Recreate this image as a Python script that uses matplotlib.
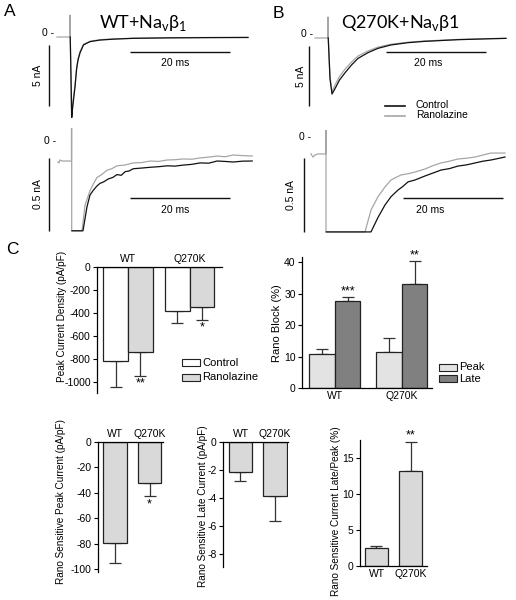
import matplotlib
matplotlib.use('Agg')
import matplotlib.pyplot as plt
from matplotlib.patches import Rectangle

plt.rcParams['font.family'] = ['Liberation Sans', 'DejaVu Sans']
plt.rcParams['axes.unicode_minus'] = False

W, H = 516, 600

# ---- current traces (time in ms from the step, current in nA) ----
# A, WT + Navb1, full scale
wt_t_rano = [-2.6, -0.05, 0.0, 0.05, 0.3, 0.5, 0.8, 1.0, 1.33, 1.6, 2.0, 2.7, 4.0, 6.0, 9.0, 12.6, 20, 28, 35.6]
wt_i_rano = [0, 0, 1.8, 0, -6.4, -5.6, -4.6, -3.9, -2.5, -1.8, -1.2, -0.6, -0.35, -0.22, -0.15, -0.1, -0.06, -0.04, -0.03]
wt_t_ctrl = [0.05, 0.35, 0.5, 0.8, 1.0, 1.33, 1.6, 2.0, 2.7, 4.0, 6.0, 9.0, 12.6, 20, 28, 35.6]
wt_i_ctrl = [0, -6.6, -5.9, -4.8, -4.1, -2.6, -1.9, -1.3, -0.65, -0.38, -0.25, -0.17, -0.11, -0.07, -0.05, -0.04]

# B, Q270K + Navb1, full scale
q_t_rano = [-2.6, -0.05, 0.0, 0.05, 0.4, 0.8, 1.3, 2.3, 3.4, 4.7, 6.0, 8.0, 10.0, 12.6, 16, 19.3, 26, 32.6, 35.6]
q_i_rano = [0, 0, 1.75, 0, -3.2, -4.5, -4.0, -3.2, -2.6, -2.0, -1.5, -1.08, -0.76, -0.52, -0.35, -0.25, -0.12, -0.05, -0.03]
q_t_ctrl = [0.05, 0.4, 0.8, 1.3, 2.3, 3.4, 4.7, 6.0, 8.0, 10.0, 12.6, 16, 19.3, 26, 32.6, 35.6]
q_i_ctrl = [0, -3.4, -4.67, -4.3, -3.5, -2.9, -2.25, -1.7, -1.22, -0.86, -0.58, -0.39, -0.28, -0.14, -0.06, -0.03]

# A, WT, late current (zoomed, display clipped at the bottom)
wtz_t_rano = [-2.74, -2.54, -2.34, -1.94, -0.05, 0.0, 0.0, 2.06, 2.66, 3.66, 4.4, 5.06, 6.0, 7.06, 8.0, 9.06,
              10.6, 12.3, 14.0, 15.7, 17.4, 19.1, 20.7, 22.3, 24.0, 25.7, 27.4, 29.1, 30.7, 32.3, 34.2, 36.1]
wtz_i_rano = [-0.144, -0.15, -0.13, -0.137, -0.137, 1.0, -0.615, -0.615, -0.44, -0.34, -0.29, -0.25, -0.23,
              -0.2, -0.19, -0.17, -0.165, -0.15, -0.148, -0.137, -0.14, -0.13, -0.128, -0.123, -0.125, -0.116,
              -0.11, -0.103, -0.108, -0.096, -0.1, -0.103]
wtz_t_ctrl = [0.05, 2.26, 3.06, 3.66, 4.26, 5.0, 5.66, 6.4, 7.3, 8.2, 9.06, 9.9, 10.7, 11.5, 12.3, 14.1, 15.7,
              17.4, 19.1, 20.7, 22.3, 24.0, 25.7, 27.4, 29.1, 30.7, 32.3, 34.2, 36.1]
wtz_i_ctrl = [-0.615, -0.615, -0.45, -0.37, -0.34, -0.31, -0.29, -0.28, -0.26, -0.25, -0.23, -0.235, -0.21,
              -0.205, -0.19, -0.185, -0.18, -0.176, -0.17, -0.172, -0.165, -0.16, -0.15, -0.152, -0.137, -0.14,
              -0.144, -0.138, -0.137]

# B, Q270K, late current (zoomed)
qz_t_rano = [-3.0, -2.6, -2.2, -1.6, -0.05, 0.0, 0.0, 7.8, 9.0, 10.4, 11.8, 13.0, 14.0, 15.0, 16.4, 17.8, 19.8,
             21.4, 23.0, 24.7, 26.4, 28.1, 29.8, 31.4, 33.0, 35.8]
qz_i_rano = [-0.111, -0.132, -0.118, -0.111, -0.111, 1.0, -0.638, -0.638, -0.49, -0.40, -0.334, -0.287, -0.27,
             -0.253, -0.245, -0.233, -0.213, -0.19, -0.172, -0.16, -0.145, -0.14, -0.132, -0.118, -0.105, -0.105]
qz_t_ctrl = [0.05, 9.0, 10.4, 11.8, 13.0, 14.4, 15.4, 16.4, 17.8, 19.8, 21.4, 23.0, 24.7, 26.4, 28.1, 29.8,
             31.4, 33.0, 35.8]
qz_i_ctrl = [-0.638, -0.638, -0.54, -0.456, -0.40, -0.355, -0.33, -0.30, -0.287, -0.26, -0.24, -0.22, -0.21,
             -0.193, -0.185, -0.172, -0.16, -0.152, -0.132]

# ---- panel C summary data ----
groups = ['WT', 'Q270K']
density_ctrl = [-820, -383]
density_ctrl_err = [225, 105]
density_rano = [-745, -348]
density_rano_err = [210, 115]
density_stars = ['**', '*']

block_peak = [10.7, 11.3]
block_peak_err = [1.6, 4.5]
block_late = [27.5, 33.1]
block_late_err = [1.5, 7.2]
block_stars = ['***', '**']

sens_peak = [-79, -32.5]
sens_peak_err = [16, 10]
sens_late = [-2.12, -3.88]
sens_late_err = [0.67, 1.74]
late_peak_ratio = [2.5, 13.3]
late_peak_ratio_err = [0.35, 4.0]

BLACK = '#111111'
GREY = '#a6a6a6'
BAR = '#d9d9d9'


def px_axes(fig, left, top, right, bottom):
    return fig.add_axes([left / W, 1 - bottom / H, (right - left) / W, (bottom - top) / H])


def trace_axes(fig, box, stim_px, zero_px, px_ms, px_na):
    left, top, right, bottom = box
    ax = px_axes(fig, *box)
    ax.set_xlim((left - stim_px) / px_ms, (right - stim_px) / px_ms)
    ax.set_ylim((zero_px - bottom) / px_na, (zero_px - top) / px_na)
    ax.axis('off')
    return ax


def scale_bars(ax, vx, vy0, vy1, vlabel, vtx, hx0, hx1, hy, htx, hty, zero_x, zero_y):
    ax.plot([vx, vx], [vy0, vy1], color=BLACK, lw=1.0, solid_capstyle='butt')
    ax.text(vtx, (vy0 + vy1) / 2, vlabel, rotation=90, ha='center', va='center', fontsize=7.5)
    ax.plot([hx0, hx1], [hy, hy], color=BLACK, lw=1.0, solid_capstyle='butt')
    ax.text(htx, hty, '20 ms', ha='center', va='center', fontsize=7.5)
    ax.text(zero_x, zero_y, '0 -', ha='right', va='center', fontsize=7.5)


def draw_traces(ax, t_rano, i_rano, t_ctrl, i_ctrl):
    ax.plot(t_rano, i_rano, color=GREY, lw=0.9)
    ax.plot(t_ctrl, i_ctrl, color=BLACK, lw=0.9)


def style_bar_axes(ax, negative):
    for side in ['right', 'bottom' if negative else 'top']:
        ax.spines[side].set_visible(False)
    for side in ['left', 'top' if negative else 'bottom']:
        ax.spines[side].set_linewidth(0.9)
    ax.tick_params(axis='y', direction='out', length=3, width=0.8, labelsize=7.5, pad=1.5)
    ax.tick_params(axis='x', length=0, labelsize=7.5, pad=2)
    if negative:
        ax.xaxis.tick_top()


def err(ax, x, vals, errs, down):
    lo = errs if down else [0] * len(errs)
    hi = [0] * len(errs) if down else errs
    ax.errorbar(x, vals, yerr=[lo, hi], fmt='none', ecolor='#333333', elinewidth=0.9, capsize=4.5,
                capthick=0.9, zorder=1)


def legend_box(fig, x, y, color, label):
    fig.add_artist(Rectangle((x / W, 1 - (y + 7) / H), 18 / W, 7 / H, transform=fig.transFigure,
                             facecolor=color, edgecolor='#222222', lw=0.8))
    fig.text((x + 20) / W, 1 - (y + 3.5) / H, label, fontsize=8, va='center', ha='left')


def ylabel(fig, x, y, text, size):
    fig.text(x / W, 1 - y / H, text, rotation=90, ha='center', va='center', fontsize=size)


fig = plt.figure(figsize=(W / 100, H / 100), dpi=100)

# ---- A / B traces ----
ax = trace_axes(fig, (30, 10, 255, 125), 70, 37, 5.0, 12.2)
draw_traces(ax, wt_t_rano, wt_i_rano, wt_t_ctrl, wt_i_ctrl)
scale_bars(ax, -4.2, -0.66, -5.66, '5 nA', -6.4, 12, 32, -1.23, 21, -2.13, -3.2, 0.3)

ax = trace_axes(fig, (285, 10, 512, 125), 328, 38, 5.0, 12.0)
draw_traces(ax, q_t_rano, q_i_rano, q_t_ctrl, q_i_ctrl)
scale_bars(ax, -3.8, -0.67, -5.67, '5 nA', -5.4, 11.6, 31.6, -1.17, 20, -2.08, -3.0, 0.3)
ax.plot([11.4, 15.4], [-5.67, -5.67], color=BLACK, lw=1.2)
ax.plot([11.4, 15.4], [-6.5, -6.5], color=GREY, lw=1.2)
ax.text(17.6, -5.55, 'Control', fontsize=7.5, va='center')
ax.text(17.6, -6.45, 'Ranolazine', fontsize=7.5, va='center')

ax = trace_axes(fig, (30, 128, 255, 232), 71.7, 141, 5.0, 146)
draw_traces(ax, wtz_t_rano, wtz_i_rano, wtz_t_ctrl, wtz_i_ctrl)
scale_bars(ax, -4.54, -0.116, -0.616, '0.5 nA', -6.74, 11.66, 31.66, -0.39, 20.66, -0.47, -3.2, 0.0)

ax = trace_axes(fig, (285, 130, 512, 234), 326, 137.5, 5.0, 148)
draw_traces(ax, qz_t_rano, qz_i_rano, qz_t_ctrl, qz_i_ctrl)
scale_bars(ax, -4.4, -0.139, -0.639, '0.5 nA', -7.0, 15.4, 35.4, -0.409, 20.8, -0.49, -3.0, 0.0)

title_font = dict(family=['Lato', 'DejaVu Sans'], fontsize=13, ha='center', va='center')
fig.text(143 / W, 1 - 23 / H, 'WT+Na$_\\mathregular{v}$β$_\\mathregular{1}$', **title_font)
fig.text(401 / W, 1 - 23 / H, 'Q270K+Na$_\\mathregular{v}$β1', **title_font)
for letter, x, y in [('A', 10, 12), ('B', 278, 14), ('C', 12, 249)]:
    fig.text(x / W, 1 - y / H, letter, fontsize=12.5, ha='center', va='center')

# ---- C: peak current density ----
ax = px_axes(fig, 97, 267, 222, 393)
style_bar_axes(ax, True)
pos = [0, 1]
x_ctrl = [p - 0.2 for p in pos]
x_rano = [p + 0.2 for p in pos]
ax.bar(x_ctrl, density_ctrl, width=0.4, color='white', edgecolor='#222222', lw=0.9, zorder=2)
ax.bar(x_rano, density_rano, width=0.4, color=BAR, edgecolor='#222222', lw=0.9, zorder=2)
err(ax, x_ctrl, density_ctrl, density_ctrl_err, True)
err(ax, x_rano, density_rano, density_rano_err, True)
for x, v, e, s in zip(x_rano, density_rano, density_rano_err, density_stars):
    ax.text(x, v - e - 8, s, ha='center', va='top', fontsize=9)
ax.set_xlim(-0.504, 1.528)
ax.set_ylim(-1100, 0)
ax.set_yticks([0, -200, -400, -600, -800, -1000])
ax.set_xticks(pos)
ax.set_xticklabels(groups)
ylabel(fig, 62, 316, 'Peak Current Density (pA/pF)', 7.2)
legend_box(fig, 182, 359, 'white', 'Control')
legend_box(fig, 182, 374, BAR, 'Ranolazine')

# ---- C: rano block ----
ax = px_axes(fig, 302, 257, 432, 388)
style_bar_axes(ax, False)
x_peak = [p - 0.19 for p in pos]
x_late = [p + 0.19 for p in pos]
ax.bar(x_peak, block_peak, width=0.38, color='#e3e3e3', edgecolor='#222222', lw=0.9, zorder=2)
ax.bar(x_late, block_late, width=0.38, color='#808080', edgecolor='#222222', lw=0.9, zorder=2)
err(ax, x_peak, block_peak, block_peak_err, False)
err(ax, x_late, block_late, block_late_err, False)
for x, v, e, s in zip(x_late, block_late, block_late_err, block_stars):
    ax.text(x, v + e + 0.8, s, ha='center', va='baseline', fontsize=9)
ax.set_xlim(-0.49, 1.45)
ax.set_ylim(0, 41.6)
ax.set_yticks([0, 10, 20, 30, 40])
ax.set_xticks(pos)
ax.set_xticklabels(groups)
ylabel(fig, 277, 323, 'Rano Block (%)', 8)
legend_box(fig, 439, 364, '#e3e3e3', 'Peak')
legend_box(fig, 439, 375, '#808080', 'Late')

# ---- C: rano sensitive peak current ----
ax = px_axes(fig, 98, 442, 163, 572)
style_bar_axes(ax, True)
ax.bar(pos, sens_peak, width=0.68, color=BAR, edgecolor='#222222', lw=0.9, zorder=2)
err(ax, pos, sens_peak, sens_peak_err, True)
ax.text(pos[1], sens_peak[1] - sens_peak_err[1] - 2, '*', ha='center', va='top', fontsize=9)
ax.set_xlim(-0.49, 1.39)
ax.set_ylim(-102, 0)
ax.set_yticks([0, -20, -40, -60, -80, -100])
ax.set_xticks(pos)
ax.set_xticklabels(groups)
ylabel(fig, 61, 502, 'Rano Sensitive Peak Current (pA/pF)', 7.2)

# ---- C: rano sensitive late current ----
ax = px_axes(fig, 223, 442, 288, 567)
style_bar_axes(ax, True)
ax.bar(pos, sens_late, width=0.68, color=BAR, edgecolor='#222222', lw=0.9, zorder=2)
err(ax, pos, sens_late, sens_late_err, True)
ax.set_xlim(-0.507, 1.377)
ax.set_ylim(-8.93, 0)
ax.set_yticks([0, -2, -4, -6, -8])
ax.set_xticks(pos)
ax.set_xticklabels(groups)
ylabel(fig, 203, 506, 'Rano Sensitive Late Current (pA/pF)', 7.2)

# ---- C: late / peak ratio ----
ax = px_axes(fig, 360, 440, 427, 566)
style_bar_axes(ax, False)
ax.bar(pos, late_peak_ratio, width=0.68, color=BAR, edgecolor='#222222', lw=0.9, zorder=2)
err(ax, pos, late_peak_ratio, late_peak_ratio_err, False)
ax.text(pos[1], late_peak_ratio[1] + late_peak_ratio_err[1] + 0.4, '**', ha='center', va='baseline', fontsize=9)
ax.set_xlim(-0.485, 1.485)
ax.set_ylim(0, 17.55)
ax.set_yticks([0, 5, 10, 15])
ax.set_xticks(pos)
ax.set_xticklabels(groups)
ylabel(fig, 336, 511, 'Rano Sensitive Current Late/Peak (%)', 7.2)

fig.savefig('out.png', dpi=100)
